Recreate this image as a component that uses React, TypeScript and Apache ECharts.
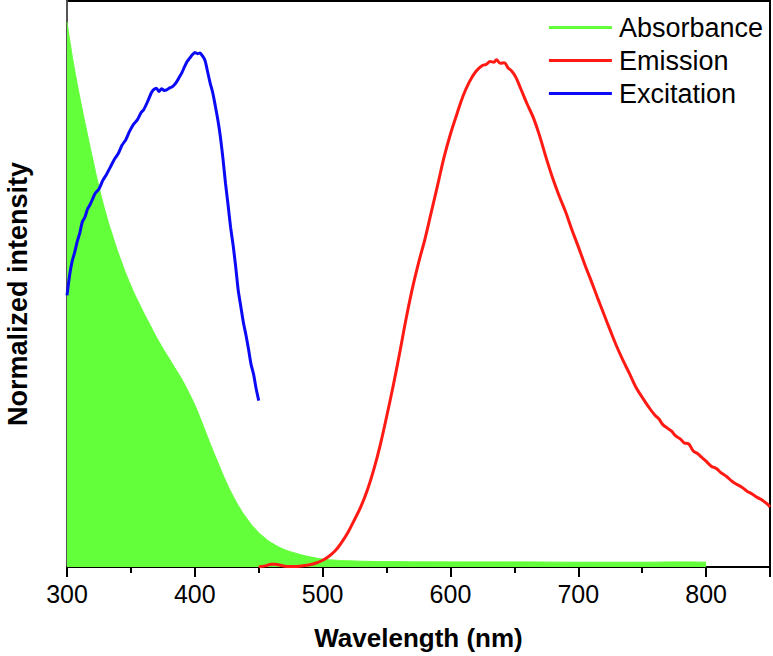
import React, { useEffect, useRef } from "react";
import * as echarts from "echarts";

const absWl = [300, 303, 306, 310, 315, 320, 325, 330, 335, 342, 350, 357, 364, 372, 383, 390, 396, 401, 406, 412, 418, 424, 430, 435, 440, 447, 455, 462, 470, 481, 490, 500, 510, 520, 535, 550, 600, 650, 700, 750, 780, 800];
const absVal = [0.963, 0.918, 0.878, 0.83, 0.775, 0.722, 0.672, 0.628, 0.59, 0.543, 0.497, 0.463, 0.432, 0.398, 0.357, 0.331, 0.305, 0.281, 0.253, 0.218, 0.185, 0.153, 0.125, 0.105, 0.088, 0.068, 0.051, 0.04, 0.031, 0.023, 0.018, 0.014, 0.012, 0.011, 0.01, 0.0095, 0.009, 0.009, 0.0085, 0.0085, 0.009, 0.0085];

const excWl = [300, 302, 304, 306, 308, 310, 312, 314, 316, 318, 320, 322, 325, 328, 331, 334, 337, 340, 343, 346, 349, 352, 355, 358, 360, 363, 366, 368, 370, 372, 374, 376, 378, 380, 382, 384, 386, 388, 390, 392, 394, 396, 398, 400, 402, 404, 406, 408, 410, 412, 414, 416, 418, 420, 422, 424, 426, 428, 430, 432, 434, 436, 438, 440, 442, 444, 446, 448, 450];
const excVal = [0.48, 0.515, 0.54, 0.556, 0.575, 0.59, 0.61, 0.618, 0.632, 0.64, 0.65, 0.66, 0.668, 0.683, 0.694, 0.707, 0.72, 0.73, 0.745, 0.755, 0.77, 0.782, 0.79, 0.803, 0.808, 0.822, 0.838, 0.844, 0.846, 0.84, 0.845, 0.842, 0.843, 0.846, 0.848, 0.852, 0.858, 0.866, 0.874, 0.884, 0.893, 0.899, 0.905, 0.909, 0.907, 0.908, 0.903, 0.895, 0.875, 0.855, 0.838, 0.815, 0.79, 0.76, 0.722, 0.678, 0.64, 0.6, 0.568, 0.53, 0.488, 0.46, 0.432, 0.41, 0.385, 0.358, 0.34, 0.315, 0.294];

const emWl = [450, 455, 460, 463, 467, 472, 480, 490, 495, 500, 505, 510, 515, 520, 525, 530, 535, 540, 545, 550, 555, 560, 565, 570, 575, 580, 585, 590, 595, 600, 605, 610, 615, 620, 625, 628, 631, 634, 636, 639, 642, 645, 648, 651, 655, 660, 665, 670, 675, 680, 685, 690, 695, 700, 705, 710, 715, 720, 725, 730, 735, 740, 745, 750, 755, 760, 763, 766, 770, 773, 776, 780, 783, 786, 790, 793, 796, 800, 804, 808, 812, 816, 820, 824, 828, 832, 836, 840, 844, 848, 850];
const emVal = [0.0, 0.002, 0.005, 0.005, 0.003, 0.001, 0.001, 0.004, 0.007, 0.012, 0.019, 0.029, 0.044, 0.062, 0.084, 0.107, 0.136, 0.172, 0.215, 0.265, 0.318, 0.375, 0.435, 0.49, 0.537, 0.579, 0.627, 0.675, 0.724, 0.765, 0.8, 0.833, 0.858, 0.876, 0.886, 0.888, 0.893, 0.892, 0.896, 0.89, 0.891, 0.882, 0.876, 0.866, 0.845, 0.818, 0.793, 0.76, 0.722, 0.687, 0.656, 0.628, 0.596, 0.566, 0.535, 0.506, 0.476, 0.447, 0.418, 0.39, 0.365, 0.342, 0.318, 0.3, 0.283, 0.268, 0.262, 0.252, 0.245, 0.24, 0.232, 0.226, 0.219, 0.218, 0.205, 0.201, 0.195, 0.187, 0.178, 0.174, 0.166, 0.16, 0.152, 0.146, 0.141, 0.134, 0.129, 0.123, 0.118, 0.111, 0.106];

const seriesNames = ["Absorbance", "Emission", "Excitation"];
const xTitle = "Wavelength (nm)";
const yTitle = "Normalized intensity";

const GREEN = "#63FF3A";
const RED = "#FF1A14";
const BLUE = "#0A0AF5";
const FONT = "Liberation Sans, Arial, Helvetica, sans-serif";

const zip = (xs: number[], ys: number[]) => xs.map((x, i) => [x, ys[i]]);

export default function App() {
  const ref = useRef<HTMLDivElement>(null);
  useEffect(() => {
    if (!ref.current) return;
    const chart = echarts.init(ref.current, null, { renderer: "svg" });
    chart.setOption({
      animation: false,
      backgroundColor: "#fff",
      textStyle: { fontFamily: FONT },
      grid: {
        left: 67,
        right: 1,
        top: 1,
        bottom: 88,
        show: true,
        borderColor: "#000",
        borderWidth: 2,
        backgroundColor: "transparent",
      },
      legend: {
        orient: "vertical",
        right: 5,
        top: 9,
        icon: "rect",
        itemWidth: 63,
        itemHeight: 3,
        itemGap: 6,
        textStyle: { fontSize: 27, color: "#000", fontFamily: FONT, lineHeight: 27, padding: [0, 0, 0, 2] },
        data: seriesNames.map((n, i) => ({ name: n, itemStyle: { color: [GREEN, RED, BLUE][i] } })),
      },
      graphic: [
        {
          type: "text",
          x: 18,
          y: 294,
          rotation: Math.PI / 2,
          style: {
            text: yTitle,
            fontSize: 27,
            fontWeight: "bold",
            fontFamily: FONT,
            fill: "#000",
            align: "center",
            verticalAlign: "middle",
          },
        },
      ],
      xAxis: {
        type: "value",
        min: 300,
        max: 850,
        interval: 100,
        name: xTitle,
        nameLocation: "middle",
        nameGap: 58,
        nameTextStyle: { fontSize: 26, fontWeight: "bold", color: "#000", fontFamily: FONT },
        axisLine: { show: true, lineStyle: { color: "#000", width: 2 } },
        axisTick: { show: true, length: 10, lineStyle: { color: "#000", width: 2 } },
        minorTick: { show: true, splitNumber: 2, length: 6, lineStyle: { color: "#000", width: 2 } },
        splitLine: { show: false },
        minorSplitLine: { show: false },
        axisLabel: {
          fontSize: 25,
          color: "#000",
          margin: 14,
          fontFamily: FONT,
          formatter: (v: number) => (v === 850 ? "" : String(v)),
        },
      },
      yAxis: {
        type: "value",
        min: 0,
        max: 1,
        axisLine: { show: true, lineStyle: { color: "#555", width: 2 } },
        axisTick: { show: false },
        axisLabel: { show: false },
        splitLine: { show: false },
      },
      series: [
        {
          name: seriesNames[0],
          type: "line",
          data: zip(absWl, absVal),
          smooth: 0.5,
          symbol: "none",
          color: GREEN,
          lineStyle: { color: GREEN, width: 1 },
          areaStyle: { color: GREEN, opacity: 1 },
          z: 1,
        },
        {
          name: seriesNames[1],
          type: "line",
          data: zip(emWl, emVal),
          smooth: 0.4,
          symbol: "none",
          color: RED,
          lineStyle: { color: RED, width: 3 },
          z: 3,
        },
        {
          name: seriesNames[2],
          type: "line",
          data: zip(excWl, excVal),
          smooth: 0.2,
          symbol: "none",
          color: BLUE,
          lineStyle: { color: BLUE, width: 3 },
          z: 3,
        },
      ],
    });
    return () => chart.dispose();
  }, []);
  return <div ref={ref} style={{ width: 773, height: 656, position: "absolute", left: 0, top: 0 }} />;
}
